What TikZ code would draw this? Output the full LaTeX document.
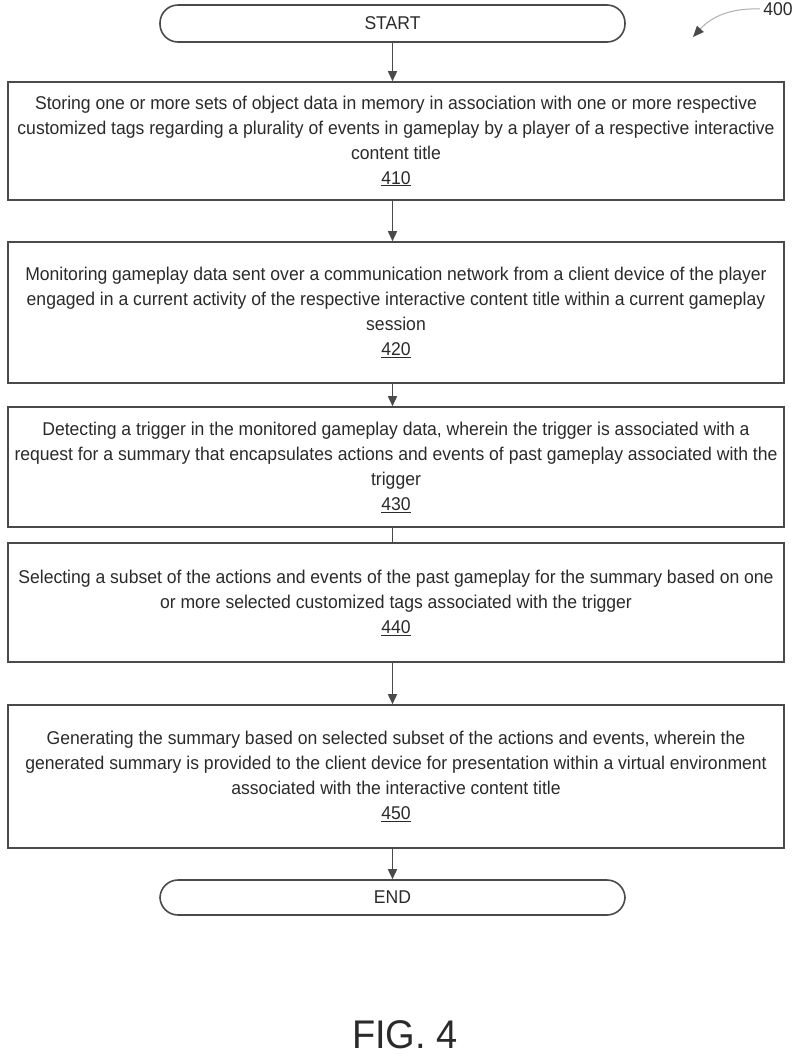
\documentclass[tikz,border=0pt]{standalone}
\usepackage{fontspec}
\setmainfont{Liberation Sans}[FakeStretch=0.95]
\usepackage{tikz}
\usetikzlibrary{positioning,calc,shapes,arrows.meta}
\definecolor{ink}{HTML}{4A4A4A}
\definecolor{txt}{HTML}{2A2A2A}
\tikzstyle{stepbox}= [rectangle, draw=ink, line width=1.6pt, minimum width=776pt, inner sep=0pt, align=center, text=txt, font=\fontsize{18.5}{25}\selectfont]
\tikzstyle{term}= [rectangle, rounded corners=18pt, draw=ink, line width=1.6pt, minimum width=465pt, inner sep=0pt, text=txt, font=\fontsize{18.5}{25}\selectfont]
\tikzstyle{flow}= [draw=ink, line width=1.6pt, -{Triangle[length=10pt,width=9pt]}]

\begin{document}
\begin{tikzpicture}[x=1pt, y=-1pt]
				\useasboundingbox (0,0) rectangle (800,1061);
				\node[term, minimum height=37pt] (start) at (392.5, 23.5) {START};
				\node[stepbox, minimum height=118pt] (s410) at (396, 141) {Storing one or more sets of object data in memory in association with one or more respective\\customized tags regarding a plurality of events in gameplay by a player of a respective interactive\\content title\\\underline{410}};
				\node[stepbox, minimum height=141pt] (s420) at (396, 312.5) {Monitoring gameplay data sent over a communication network from a client device of the player\\engaged in a current activity of the respective interactive content title within a current gameplay\\session\\\underline{420}};
				\node[stepbox, minimum height=120pt] (s430) at (396, 467) {Detecting a trigger in the monitored gameplay data, wherein the trigger is associated with a\\request for a summary that encapsulates actions and events of past gameplay associated with the\\trigger\\\underline{430}};
				\node[stepbox, minimum height=119pt] (s440) at (396, 602.5) {Selecting a subset of the actions and events of the past gameplay for the summary based on one\\or more selected customized tags associated with the trigger\\\underline{440}};
				\node[stepbox, minimum height=143pt] (s450) at (396, 776.5) {Generating the summary based on selected subset of the actions and events, wherein the\\generated summary is provided to the client device for presentation within a virtual environment\\associated with the interactive content title\\\underline{450}};
				\node[term, minimum height=35pt] (end) at (392.5, 897.5) {END};
				\node[text=txt, font=\fontsize{40}{44}\selectfont] (fig) at (405, 1035) {FIG. 4};
				\node[text=txt, font=\fontsize{18.5}{20}\selectfont] (lbl400) at (778, 9) {400};
				\coordinate (tip400) at (693, 37);
				\draw[flow](start) -- (start |- s410.north);
				\draw[flow](start |- s410.south) -- (start |- s420.north);
				\draw[flow](start |- s420.south) -- (start |- s430.north);
				\draw[draw=ink, line width=1.6pt](start |- s430.south) -- (start |- s440.north);
				\draw[flow](start |- s440.south) -- (start |- s450.north);
				\draw[flow](start |- s450.south) -- (end);
				\draw[draw=ink!45, line width=1pt, -{Triangle[length=11pt,width=9pt,color=ink]}] (lbl400.west) to[bend right=25] (tip400);
			\end{tikzpicture}
\end{document}
